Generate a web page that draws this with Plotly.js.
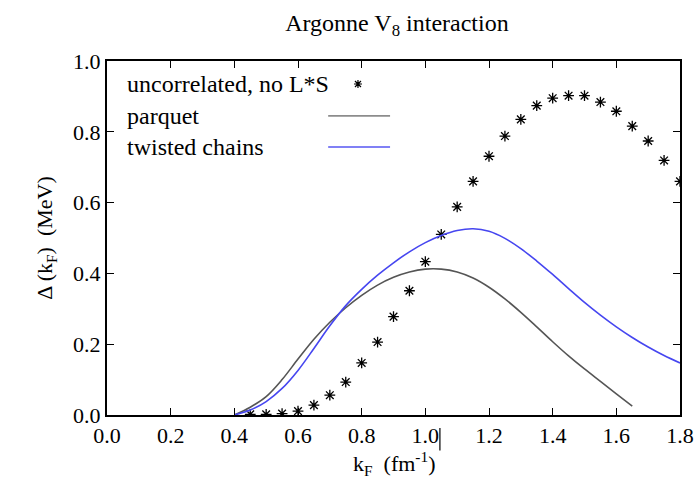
<!DOCTYPE html>
<html>
<head>
<meta charset="utf-8">
<script src="https://cdn.plot.ly/plotly-3.0.1.min.js"></script>
<style>html,body{margin:0;padding:0;background:#fff;}#chart{width:697px;height:495px;}</style>
</head>
<body>
<div id="chart"></div>
<script>
// Uncorrelated, no L*S (asterisks)
const kUncorr = [0.45,0.50,0.55,0.60,0.65,0.70,0.75,0.80,0.85,0.90,0.95,1.00,1.05,1.10,1.15,1.20,1.25,1.30,1.35,1.40,1.45,1.50,1.55,1.60,1.65,1.70,1.75,1.80];
const gapUncorr = [0.002,0.002,0.004,0.011,0.028,0.056,0.093,0.147,0.206,0.278,0.351,0.433,0.510,0.588,0.660,0.731,0.788,0.835,0.874,0.895,0.902,0.902,0.884,0.858,0.816,0.774,0.719,0.660];

// Parquet (gray line)
const kParquet = [0.40,0.45,0.50,0.55,0.60,0.65,0.70,0.75,0.80,0.85,0.90,0.95,1.00,1.05,1.10,1.15,1.20,1.25,1.30,1.35,1.40,1.45,1.50,1.55,1.60,1.65];
const gapParquet = [0.000,0.022,0.052,0.100,0.158,0.214,0.262,0.303,0.338,0.367,0.389,0.404,0.412,0.412,0.404,0.387,0.361,0.328,0.290,0.249,0.207,0.167,0.130,0.095,0.060,0.025];

// Twisted chains (blue line)
const kTwisted = [0.40,0.45,0.50,0.55,0.60,0.65,0.70,0.75,0.80,0.85,0.90,0.95,1.00,1.05,1.10,1.15,1.20,1.25,1.30,1.35,1.40,1.45,1.50,1.55,1.60,1.65,1.70,1.75,1.80];
const gapTwisted = [0.000,0.014,0.038,0.075,0.126,0.188,0.252,0.309,0.355,0.395,0.430,0.461,0.487,0.507,0.521,0.526,0.519,0.499,0.470,0.435,0.397,0.357,0.318,0.282,0.249,0.219,0.192,0.168,0.147];

const xTicks = [0.0,0.2,0.4,0.6,0.8,1.0,1.2,1.4,1.6,1.8];
const xTickText = ["0.0","0.2","0.4","0.6","0.8","1.0","1.2","1.4","1.6","1.8"];
const yTicks = [0.0,0.2,0.4,0.6,0.8,1.0];
const yTickText = ["0.0","0.2","0.4","0.6","0.8","1.0"];

const legendLabels = ["uncorrelated, no L*S","parquet","twisted chains"];
const titleText = "Argonne V<sub>8</sub> interaction";
const xTitle = "k<sub>F</sub>  (fm<sup>-1</sup>)";
const yTitle = "Δ (k<sub>F</sub>)  (MeV)";

const FONT = "Liberation Serif";
const grayCol = "#555555";
const blueCol = "#4646f0";

const traces = [
  {x: kUncorr, y: gapUncorr, mode: "markers", type: "scatter", showlegend: false,
   marker: {symbol: "asterisk-open", size: 9, color: "#000", line: {color: "#000", width: 1.3}}},
  {x: kParquet, y: gapParquet, mode: "lines", type: "scatter", showlegend: false,
   line: {color: grayCol, width: 1.6, shape: "spline", smoothing: 1}},
  {x: kTwisted, y: gapTwisted, mode: "lines", type: "scatter", showlegend: false,
   line: {color: blueCol, width: 1.6, shape: "spline", smoothing: 1}}
];

const legY = [0.935, 0.845, 0.757];
const annotations = legendLabels.map((t, i) => ({
  xref: "paper", yref: "paper", x: 0.031, y: legY[i], xanchor: "left", yanchor: "middle",
  text: t, showarrow: false, font: {family: FONT, size: 24, color: "#000"}
}));
annotations.push({
  xref: "paper", yref: "paper", x: 0.5, y: -0.138, xanchor: "center", yanchor: "middle",
  text: xTitle, showarrow: false, font: {family: FONT, size: 22, color: "#000"}
});

const shapes = [
  {type: "path", xref: "paper", yref: "paper", xsizemode: "pixel", ysizemode: "pixel",
   xanchor: 0.438, yanchor: legY[0],
   path: "M-4,0H4M0,-4V4M-3,-3L3,3M-3,3L3,-3", line: {color: "#000", width: 1.2}},
  {type: "line", xref: "paper", yref: "paper", x0: 0.386, x1: 0.494, y0: legY[1], y1: legY[1],
   line: {color: "#8c8c8c", width: 1.8}},
  {type: "line", xref: "paper", yref: "paper", x0: 0.386, x1: 0.494, y0: legY[2], y1: legY[2],
   line: {color: "#8080f5", width: 1.8}},
  {type: "line", xref: "paper", yref: "paper", x0: 0.581, x1: 0.581, y0: -0.037, y1: -0.1,
   line: {color: "#000", width: 1.2}}
];

const layout = {
  width: 697, height: 495,
  margin: {l: 107, r: 17, t: 61, b: 80},
  paper_bgcolor: "#fff", plot_bgcolor: "#fff",
  font: {family: FONT, size: 22, color: "#000"},
  title: {text: titleText, font: {family: FONT, size: 24, color: "#000"},
          xref: "paper", x: 0.506, xanchor: "center", yref: "container", y: 0.955, yanchor: "middle"},
  xaxis: {range: [0, 1.8], tickvals: xTicks, ticktext: xTickText, ticks: "inside", ticklen: 7,
          tickcolor: "#000", showgrid: false, zeroline: false, showline: true, linecolor: "#000",
          linewidth: 2, mirror: "ticks",
          tickfont: {family: FONT, size: 22, color: "#000"}},
  yaxis: {range: [0, 1.0], tickvals: yTicks, ticktext: yTickText, ticks: "inside", ticklen: 7,
          tickcolor: "#000", showgrid: false, zeroline: false, showline: true, linecolor: "#000",
          linewidth: 2, mirror: "ticks",
          tickfont: {family: FONT, size: 22, color: "#000"},
          title: {text: yTitle, font: {family: FONT, size: 22, color: "#000"}}},
  annotations: annotations,
  shapes: shapes
};

Plotly.newPlot("chart", traces, layout, {displayModeBar: false, staticPlot: true});
</script>
</body>
</html>
